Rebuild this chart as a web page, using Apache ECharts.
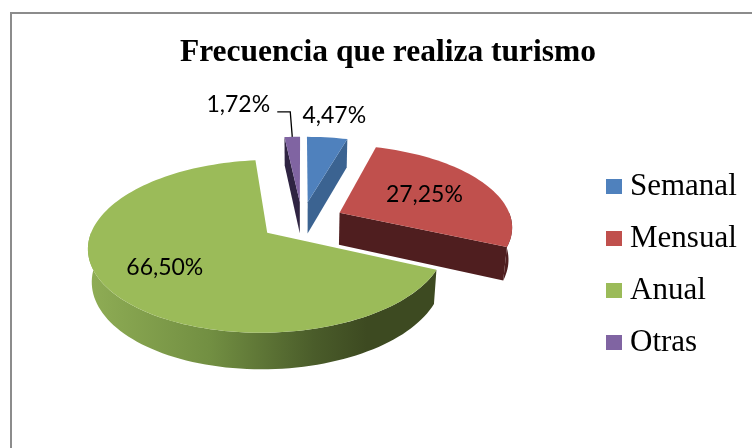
<!DOCTYPE html>
<html>
<head>
<meta charset="utf-8">
<title>Frecuencia que realiza turismo</title>
<script src="https://cdn.jsdelivr.net/npm/echarts@6/dist/echarts.min.js"></script>
<style>
  html, body { margin: 0; padding: 0; background: #fff; }
  #chart { width: 752px; height: 448px; }
</style>
</head>
<body>
<div id="chart"></div>
<script>
// datos del gráfico
const categories = ['Semanal', 'Mensual', 'Anual', 'Otras'];
const values = [4.47, 27.25, 66.50, 1.72];

// colores de la cara superior y de los lados
const topColors = ['#4F81BD', '#C0504D', '#9BBB59', '#8064A2'];
const sideColors = ['#3B6391', '#4F1E1F', {
  type: 'linear', x: 0, y: 0, x2: 1, y2: 0,
  colorStops: [
    { offset: 0, color: '#8FAD55' },
    { offset: 0.35, color: '#728F42' },
    { offset: 0.65, color: '#4A5C2A' },
    { offset: 0.8, color: '#3D4A21' },
    { offset: 1, color: '#3D4A21' }
  ]
}, '#2F2442'];

// cámara de la tarta 3D (radio = 1)
const view = { cx: 302, cy: 221, F: 172.3, sinT: 0.468, cosT: 0.884, D: 5.78, depth: 0.215, explode: 0.244 };

// posición de las etiquetas
const labelLayout = [
  { outside: true, dx: 7, dy: -22 },
  { r: 0.58 },
  { r: 0.66 },
  { outside: true, dx: -54, dy: -32, leader: true }
];

const rad = d => d * Math.PI / 180;
const total = values.reduce((a, b) => a + b, 0);
let acc = 0;
const angles = values.map(v => {
  const a0 = acc / total * 360;
  acc += v;
  return [a0, acc / total * 360];
});

function project(X, Z, Y) {
  const dn = 1 + (Z * view.cosT - Y * view.sinT) / view.D;
  return [view.cx + view.F * X / dn, view.cy - view.F * (Z * view.sinT + Y * view.cosT) / dn];
}

function sliceCenter(i) {
  const mid = rad((angles[i][0] + angles[i][1]) / 2);
  return [view.explode * Math.sin(mid), view.explode * Math.cos(mid), mid];
}

function arcPoints(ox, oz, a0, a1, y) {
  const n = Math.max(2, Math.ceil((a1 - a0) / 2));
  const pts = [];
  for (let k = 0; k <= n; k++) {
    const a = rad(a0 + (a1 - a0) * k / n);
    pts.push(project(ox + Math.sin(a), oz + Math.cos(a), y));
  }
  return pts;
}

function fmt(v) {
  return v.toFixed(2).replace('.', ',') + '%';
}

function renderSlice(i) {
  const [a0, a1] = angles[i];
  const [ox, oz, mid] = sliceCenter(i);
  const H = -view.depth;
  const children = [];
  // lado exterior (solo la parte de delante)
  const f0 = Math.max(a0, 90), f1 = Math.min(a1, 270);
  if (f1 > f0) {
    const top = arcPoints(ox, oz, f0, f1, 0);
    const bot = arcPoints(ox, oz, f0, f1, H).reverse();
    children.push({ type: 'polygon', shape: { points: top.concat(bot) }, style: { fill: sideColors[i] } });
  }
  // caras de corte
  const c0 = project(ox, oz, 0), c1 = project(ox, oz, H);
  const wall = a => {
    const r = rad(a);
    const x = ox + Math.sin(r), z = oz + Math.cos(r);
    return { type: 'polygon', shape: { points: [c0, project(x, z, 0), project(x, z, H), c1] }, style: { fill: sideColors[i] } };
  };
  if (Math.sin(rad(a0)) < -1e-6) children.push(wall(a0));
  if (Math.sin(rad(a1)) > 1e-6) children.push(wall(a1));
  // cara superior
  children.push({ type: 'polygon', shape: { points: [c0].concat(arcPoints(ox, oz, a0, a1, 0)) }, style: { fill: topColors[i] } });
  // etiqueta
  const lay = labelLayout[i];
  const font = '23px Lato';
  if (lay.outside) {
    const p = project(ox + Math.sin(mid), oz + Math.cos(mid), 0);
    const lx = p[0] + lay.dx, ly = p[1] + lay.dy;
    children.push({ type: 'text', style: { text: fmt(values[i]), x: lx, y: ly, fill: '#000', font, align: 'center', verticalAlign: 'middle' } });
    if (lay.leader) {
      children.push({
        type: 'polyline',
        shape: { points: [[p[0], p[1]], [p[0] - 2, ly + 7], [lx + 39, ly + 7]] },
        style: { stroke: '#000', lineWidth: 1.3, fill: null }
      });
    }
  } else {
    const p = project(ox + lay.r * Math.sin(mid), oz + lay.r * Math.cos(mid), 0);
    children.push({ type: 'text', style: { text: fmt(values[i]), x: p[0], y: p[1], fill: '#000', font, align: 'center', verticalAlign: 'middle' } });
  }
  return { type: 'group', children };
}

// orden de dibujo: de atrás hacia delante
const order = categories.map((_, i) => i).sort((p, q) => sliceCenter(q)[1] - sliceCenter(p)[1]);

const chart = echarts.init(document.getElementById('chart'));
chart.setOption({
  animation: false,
  title: {
    text: 'Frecuencia que realiza turismo',
    left: 388,
    top: 37,
    padding: 0,
    textAlign: 'center',
    textStyle: { fontFamily: 'Liberation Serif', fontWeight: 'bold', fontSize: 31.5, lineHeight: 32, color: '#000' }
  },
  legend: {
    data: categories,
    orient: 'vertical',
    left: 606,
    top: 171,
    padding: 0,
    itemWidth: 16,
    itemHeight: 15,
    itemGap: 21,
    icon: 'rect',
    selectedMode: false,
    textStyle: { fontFamily: 'Liberation Serif', fontSize: 31, lineHeight: 30, color: '#000', padding: [0, 0, 0, 3] }
  },
  graphic: [{
    type: 'rect',
    silent: true,
    shape: { x: 11, y: 13, width: 780, height: 480 },
    style: { fill: 'transparent', stroke: '#8C8C8C', lineWidth: 2 }
  }],
  series: categories.map((name, i) => ({
    type: 'custom',
    name,
    coordinateSystem: 'none',
    z: 2 + order.indexOf(i),
    itemStyle: { color: topColors[i] },
    data: [values[i]],
    renderItem: () => renderSlice(i)
  }))
});
</script>
</body>
</html>
